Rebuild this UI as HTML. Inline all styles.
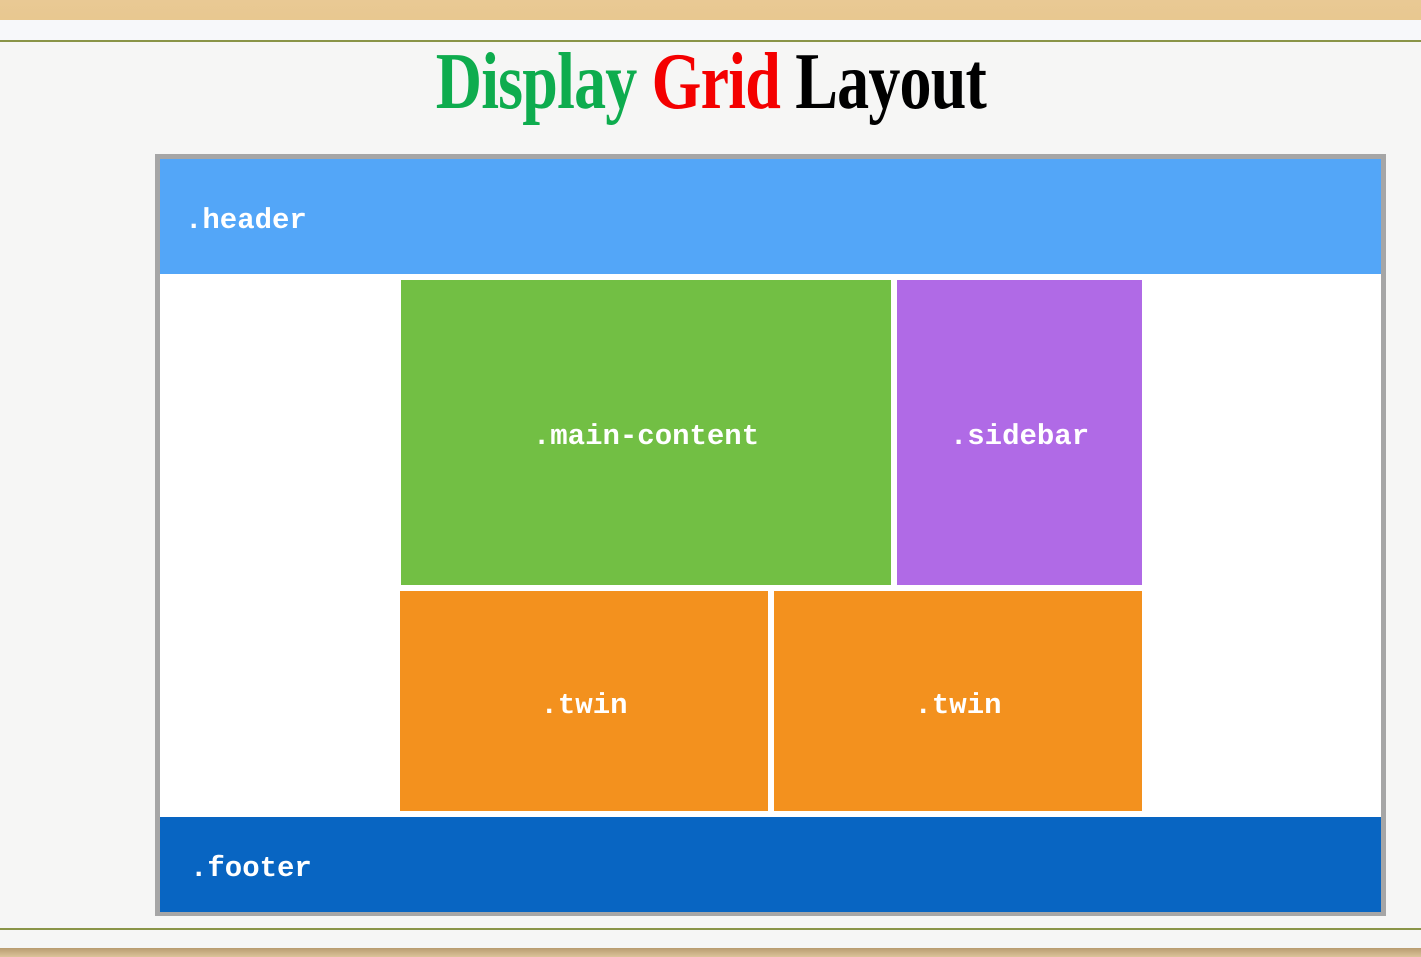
<!DOCTYPE html>
<html><head><meta charset="utf-8"><style>
*{margin:0;padding:0;box-sizing:border-box}
body{width:1421px;height:957px;overflow:hidden;background:#f6f6f5;position:relative;font-family:"Liberation Mono",monospace}
.a{position:absolute}
.lab{position:absolute;color:#fff;font-weight:bold;font-size:29px;font-family:"Liberation Mono",monospace;display:flex;align-items:center;justify-content:center;padding-top:8px}
</style></head><body>
<div class="a" style="left:0;top:0;width:1421px;height:20px;background:linear-gradient(#e9c994,#e8c890)"></div>
<div class="a" style="left:0;top:20px;width:1421px;height:20px;background:#f7f8fa"></div>
<div class="a" style="left:0;top:40px;width:1421px;height:2px;background:#8a9448"></div>
<div class="a" style="left:0;top:928px;width:1421px;height:2px;background:#8a9448"></div>
<div class="a" style="left:0;top:948px;width:1421px;height:9px;background:linear-gradient(#b89c70,#dcc39a)"></div>
<div class="a" style="left:0;top:41px;width:1421px;text-align:center;font-family:'Liberation Serif',serif;font-size:80px;line-height:82px;">
<span style="display:inline-block;transform:scaleX(0.8);white-space:nowrap;letter-spacing:-1px;font-weight:bold"><span style="color:#0eac4e">Display</span> <span style="color:#f40000">Grid</span> <span style="color:#000">Layout</span></span></div>
<div class="a" style="left:155px;top:154px;width:1231px;height:762px;border:5px solid #a6a6a6;background:#fff"></div>
<div class="lab" style="left:160px;top:159px;width:1221px;height:115px;background:#53a6f8;justify-content:flex-start;padding-left:25px">.header</div>
<div class="lab" style="left:401px;top:280px;width:490px;height:305px;background:#72bf44">.main-content</div>
<div class="lab" style="left:897px;top:280px;width:245px;height:305px;background:#b06ae6">.sidebar</div>
<div class="lab" style="left:400px;top:591px;width:368px;height:220px;background:#f3911e">.twin</div>
<div class="lab" style="left:774px;top:591px;width:368px;height:220px;background:#f3911e">.twin</div>
<div class="lab" style="left:160px;top:817px;width:1221px;height:95px;background:#0865c2;justify-content:flex-start;padding-left:30px">.footer</div>
</body></html>
